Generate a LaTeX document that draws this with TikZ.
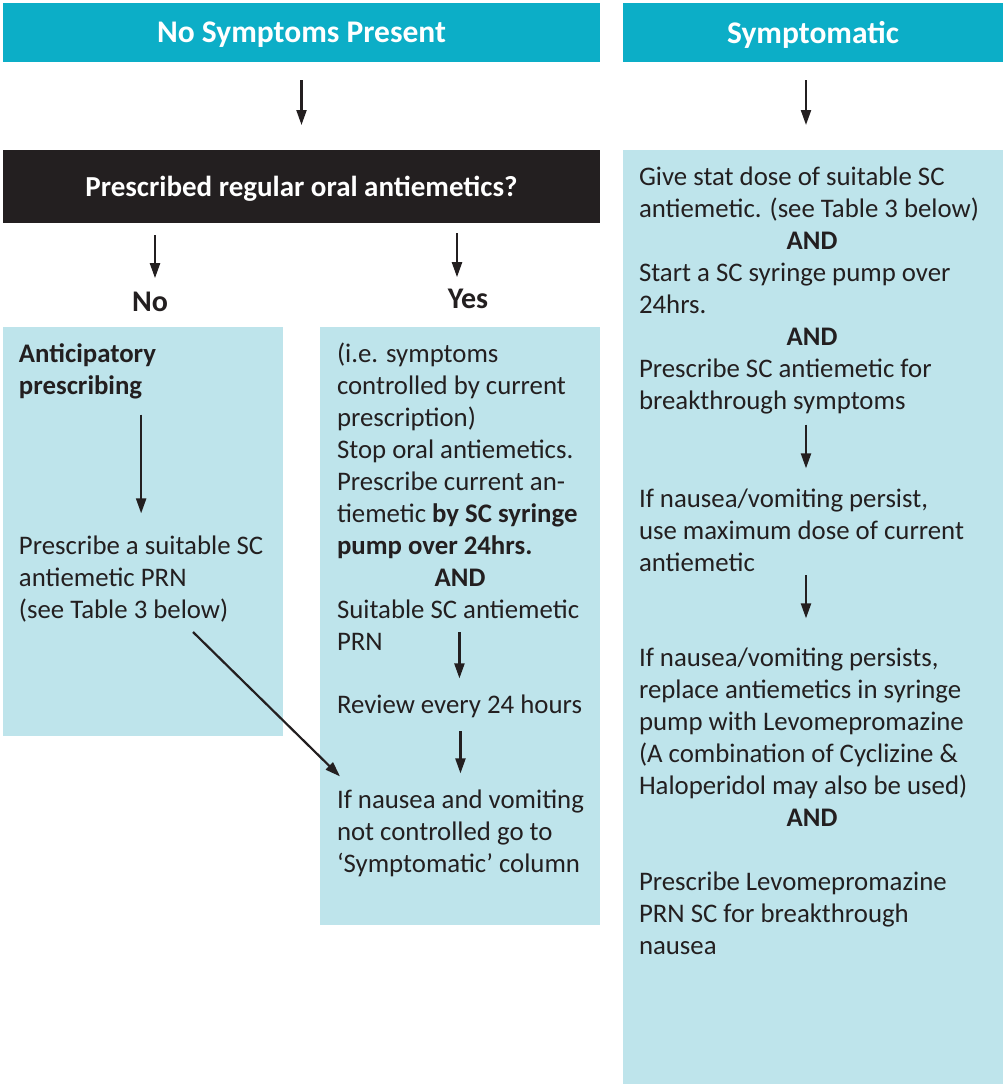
\documentclass[tikz,border=0pt]{standalone}
\usepackage{fontspec}
\setmainfont{Carlito}
\usetikzlibrary{positioning,arrows.meta}
\definecolor{hdrteal}{RGB}{12,174,199}
\definecolor{panelblue}{RGB}{190,228,235}
\definecolor{ink}{RGB}{35,31,32}
\tikzset{every node/.style={inner sep=0pt,outer sep=0pt}}
\tikzset{hdr/.style={rectangle,fill=hdrteal,text=white,text depth=0pt,font=\fontsize{31.5}{34}\selectfont\bfseries}}
\tikzset{qst/.style={rectangle,fill=ink,text=white,text depth=0pt,font=\fontsize{29}{32}\selectfont\bfseries}}
\tikzset{panel/.style={rectangle,fill=panelblue,anchor=north west}}
\tikzset{lbl/.style={text=ink,font=\fontsize{30}{32}\selectfont\bfseries}}
\tikzset{txt/.style={anchor=base west,align=left,text=ink,font=\fontsize{26.8}{32}\selectfont}}
\tikzset{arr/.style={-{Triangle[length=15pt,width=10pt]},line width=2.2pt,draw=ink}}
\newcommand\androw[1]{\makebox[#1][c]{\textbf{AND}}}

\begin{document}
\begin{tikzpicture}[x=1pt,y=-1pt]
\useasboundingbox (0,0) rectangle (1007,1084);
% column heads
\node[hdr,minimum width=597pt,minimum height=59pt] (noSym) at (301.5,32.5) {No Symptoms Present};
\node[hdr,minimum width=380pt,minimum height=59pt] (sym) at (813,32.5) {Symptomatic};
\node[qst,minimum width=597pt,minimum height=73pt] (q) at (301.5,186.5) {Prescribed regular oral antiemetics?};
\node[lbl] (no) at (150,302) {No};
\node[lbl] (yes) at (468,299) {Yes};

% panels
\node[panel,minimum width=280pt,minimum height=409pt] (noPanel) at (3,327) {};
\node[panel,minimum width=280pt,minimum height=598pt] (yesPanel) at (320,327) {};
\node[panel,minimum width=380pt,minimum height=934pt] (symPanel) at (623,150) {};

% no column (placed by the baseline of the last line)
\node[txt] (antic) at (19,394) {\textbf{Anticipatory}\\\textbf{prescribing}};
\node[txt] (prescL) at (19,618) {Prescribe a suitable SC\\antiemetic PRN\\(see Table 3 below)};

% yes column
\node[txt] (yesTxt) at (337,650) {(i.e. symptoms\\controlled by current\\prescription)\\Stop oral antiemetics.\\Prescribe current an-\\tiemetic \textbf{by SC syringe}\\\textbf{pump over 24hrs.}\\\androw{246pt}\\Suitable SC antiemetic\\PRN};
\node[txt] (review) at (337,713) {Review every 24 hours};
\node[txt] (nvM) at (337,872) {If nausea and vomiting\\not controlled go to\\‘Symptomatic’ column};

% symptomatic column
\node[txt] (statTxt) at (639,409) {Give stat dose of suitable SC\\antiemetic. (see Table 3 below)\\\androw{346pt}\\Start a SC syringe pump over\\24hrs.\\\androw{346pt}\\Prescribe SC antiemetic for\\breakthrough symptoms};
\node[txt] (maxTxt) at (639,571) {If nausea/vomiting persist,\\use maximum dose of current\\antiemetic};
\node[txt] (levoTxt) at (639,954) {If nausea/vomiting persists,\\replace antiemetics in syringe\\pump with Levomepromazine\\(A combination of Cyclizine \&\\Haloperidol may also be used)\\\androw{346pt}\\[32pt]Prescribe Levomepromazine\\PRN SC for breakthrough\\nausea};

\coordinate (diagStart) at (193,632);

% arrows
\draw[arr,shorten <=18pt,shorten >=25pt] (noSym.south) -- (q.north);
\draw[arr,shorten <=18pt,shorten >=25pt] ([xshift=-7pt]sym.south) -- ([xshift=-7pt]symPanel.north);
\draw[arr,shorten <=12pt,shorten >=14pt] ([xshift=5pt]q.south -| no.north) -- ([xshift=5pt]no.north);
\draw[arr,shorten <=10pt,shorten >=12pt] ([xshift=-11pt]q.south -| yes.north) -- ([xshift=-11pt]yes.north);
\draw[arr,shorten <=16pt,shorten >=22pt] (antic.south -| prescL.north) -- (prescL.north);
\draw[arr] (diagStart) -- ([shift={(3pt,13pt)}]nvM.north west);
\draw[arr,shorten <=-18pt,shorten >=16pt] (yesTxt.south -| review.north) -- (review.north);
\draw[arr,shorten <=14pt,shorten >=16pt] (review.south -| nvM.north) -- (nvM.north);
\draw[arr,shorten <=11pt,shorten >=20pt] ([xshift=-6pt]statTxt.south) -- ([xshift=-6pt]statTxt.south |- maxTxt.north);
\draw[arr,shorten <=4pt,shorten >=29pt] ([xshift=-6pt]maxTxt.south -| statTxt.south) -- ([xshift=-6pt]levoTxt.north -| statTxt.south);
\end{tikzpicture}
\end{document}
